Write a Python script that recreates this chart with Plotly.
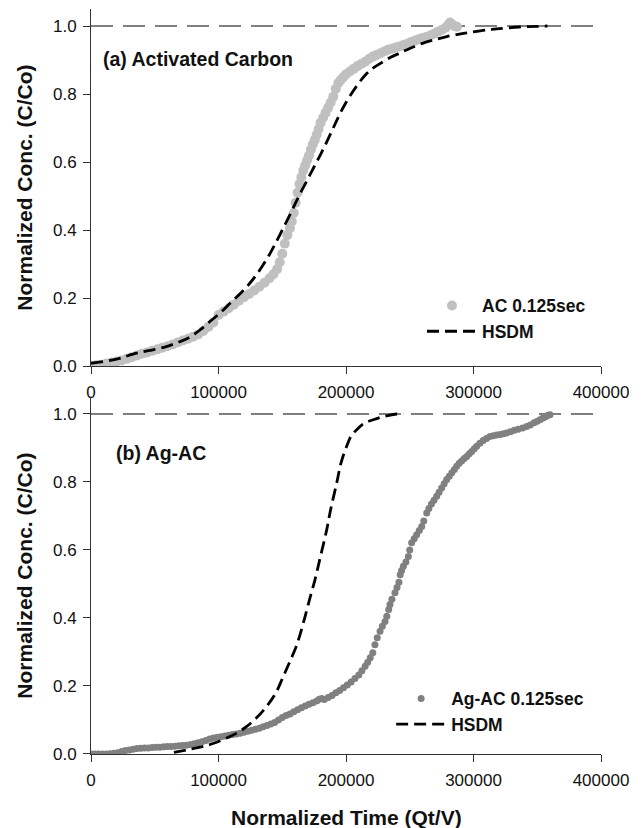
import plotly.graph_objects as go

# ---------------- data ----------------
# Panel (a): Activated Carbon, experimental (AC 0.125sec)
ac_time = [0, 4000, 8000, 12000, 16000, 20000, 24000, 28000, 32000, 36000, 40000, 44000, 48000,
           52000, 56000, 60000, 64000, 68000, 72000, 76000, 80000, 84000, 88000, 92000, 96000,
           100000, 104000, 108000, 112000, 116000, 120000, 124000, 128000, 132000, 136000, 140000,
           143000, 146000, 148000, 150000, 152000, 154000, 156000, 157500, 159000, 160500, 162000,
           163500, 165000, 166500, 168000, 169500, 171000, 172500, 174000, 175500, 177000, 178500,
           180000, 182000, 184000, 186000, 188000, 190000, 192000, 194000, 196000, 198000, 200000,
           203000, 206000, 209000, 212000, 215000, 218000, 221000, 224000, 227000, 230000, 233000,
           236000, 239000, 242000, 245000, 248000, 251000, 254000, 257000, 260000, 263000, 266000,
           269000, 272000, 275000, 278000, 280000, 281600, 283000, 285000, 287000]
ac_conc = [0.000, 0.002, 0.004, 0.007, 0.010, 0.013, 0.016, 0.021, 0.026, 0.031, 0.036, 0.040, 0.045,
           0.049, 0.054, 0.058, 0.063, 0.069, 0.075, 0.080, 0.086, 0.093, 0.103, 0.115, 0.128,
           0.150, 0.160, 0.170, 0.180, 0.192, 0.202, 0.212, 0.222, 0.233, 0.245, 0.258,
           0.270, 0.285, 0.305, 0.330, 0.360, 0.385, 0.405, 0.425, 0.450, 0.480, 0.510,
           0.535, 0.555, 0.575, 0.590, 0.605, 0.620, 0.637, 0.652, 0.665, 0.680, 0.697,
           0.715, 0.730, 0.745, 0.760, 0.775, 0.792, 0.815, 0.832, 0.842, 0.850, 0.858,
           0.866, 0.874, 0.882, 0.888, 0.895, 0.903, 0.910, 0.915, 0.920, 0.925, 0.930,
           0.933, 0.937, 0.940, 0.944, 0.948, 0.953, 0.957, 0.961, 0.965, 0.968, 0.972,
           0.977, 0.983, 0.988, 0.995, 1.003, 1.010, 1.005, 1.000, 0.998]

# Panel (a): HSDM model
hsdm_a_time = [0, 20000, 33000, 45000, 59000, 70000, 78000, 85500, 93000, 101000, 110000, 119500,
               126000, 132500, 140000, 145000, 150000, 155000, 160000, 165000, 170000, 175000,
               180000, 185000, 190000, 195000, 200000, 205000, 210000, 215000, 220000, 227000,
               235000, 242000, 250000, 260000, 270000, 279000, 290000, 297000, 310000, 320000,
               336000, 350000, 358000]
hsdm_a_conc = [0.008, 0.020, 0.035, 0.045, 0.057, 0.072, 0.086, 0.106, 0.130, 0.155, 0.188, 0.222,
               0.250, 0.283, 0.328, 0.363, 0.400, 0.437, 0.476, 0.514, 0.550, 0.586,
               0.622, 0.660, 0.700, 0.740, 0.775, 0.805, 0.832, 0.855, 0.873, 0.890,
               0.908, 0.920, 0.934, 0.949, 0.960, 0.969, 0.977, 0.981, 0.988, 0.992,
               0.997, 0.999, 1.000]

# Panel (b): Ag-AC, experimental (Ag-AC 0.125sec)
agac_time = [0, 3000, 6000, 9000, 12000, 15000, 18000, 21000, 24000, 27000, 30000, 33000, 36000,
             39000, 42000, 45000, 48000, 51000, 54000, 57000, 60000, 63000, 66000, 69000, 72000,
             75000, 78000, 81000, 84000, 87000, 90000, 93000, 96000, 99000, 102000, 105000, 108000,
             111000, 114000, 117000, 120000, 123000, 126000, 129000, 132000, 135000, 138000, 141000,
             144000, 147000, 150000, 153000, 156000, 159000, 162000, 165000, 168000, 171000, 174000,
             177000, 179000, 181000, 183000, 186000, 189000, 192000, 195000, 198000, 201000, 204000,
             207000, 210000, 212500, 215000, 217000, 219000, 221000, 222700, 224500, 226700, 228500,
             230600, 232000, 233500, 234500, 236000, 238400, 240000, 241500, 242500, 243600, 245000,
             247000, 248900, 250000, 251500, 253500, 255400, 257500, 259400, 261000, 263300, 265000,
             267000, 269000, 271100, 273000, 275000, 277000, 279000, 281000, 283000, 285000, 286800,
             288800, 290700, 292700, 294700, 296700, 298600, 300600, 302500, 305000, 307600, 310200,
             312900, 315500, 318200, 321000, 323500, 326000, 329000, 332000, 335000, 338500, 341700,
             344500, 347500, 350000, 352200, 354500, 356500, 358500, 360000]
agac_conc = [0.000, 0.000, 0.000, 0.000, 0.000, 0.001, 0.002, 0.004, 0.007, 0.010, 0.012, 0.014, 0.016,
             0.017, 0.018, 0.018, 0.019, 0.020, 0.020, 0.021, 0.022, 0.022, 0.023, 0.024, 0.025,
             0.026, 0.028, 0.030, 0.033, 0.036, 0.040, 0.044, 0.047, 0.049, 0.051, 0.053, 0.055,
             0.057, 0.059, 0.061, 0.064, 0.067, 0.070, 0.073, 0.076, 0.080, 0.084, 0.088,
             0.093, 0.100, 0.107, 0.113, 0.118, 0.124, 0.130, 0.136, 0.141, 0.146, 0.151,
             0.156, 0.161, 0.163, 0.160, 0.166, 0.172, 0.180, 0.187, 0.195, 0.203, 0.212,
             0.222, 0.232, 0.245, 0.258, 0.270, 0.283, 0.298, 0.321, 0.342, 0.361, 0.376,
             0.390, 0.405, 0.425, 0.440, 0.455, 0.474, 0.490, 0.505, 0.527, 0.540, 0.552,
             0.565, 0.581, 0.600, 0.621, 0.633, 0.645, 0.657, 0.669, 0.685, 0.709, 0.722,
             0.735, 0.746, 0.758, 0.770, 0.782, 0.795, 0.807, 0.817, 0.827, 0.837, 0.846,
             0.855, 0.862, 0.869, 0.875, 0.883, 0.890, 0.898, 0.905, 0.914, 0.922, 0.928,
             0.934, 0.936, 0.938, 0.940, 0.942, 0.944, 0.948, 0.952, 0.955, 0.959, 0.963,
             0.968, 0.974, 0.979, 0.983, 0.988, 0.992, 0.996, 0.998]

# Panel (b): HSDM model
hsdm_b_time = [65000, 75000, 85500, 95000, 106400, 115000, 122100, 130000, 137800, 145000, 150800,
               156000, 161300, 166500, 171800, 175700, 179600, 184900, 188000, 192700, 196000,
               200500, 204000, 208400, 214000, 221400, 230000, 239800, 245000]
hsdm_b_conc = [0.005, 0.012, 0.020, 0.030, 0.047, 0.063, 0.081, 0.107, 0.140, 0.180, 0.228,
               0.272, 0.320, 0.385, 0.460, 0.513, 0.575, 0.660, 0.720, 0.797, 0.855,
               0.905, 0.935, 0.954, 0.972, 0.983, 0.993, 1.000, 1.000]

REF_LEVEL = 1.0
x_ticks = [0, 100000, 200000, 300000, 400000]
y_ticks = [0.0, 0.2, 0.4, 0.6, 0.8, 1.0]
panel_labels = ["(a) Activated Carbon", "(b) Ag-AC"]
y_title = "Normalized Conc. (C/Co)"
x_title = "Normalized Time (Qt/V)"

# ---------------- figure ----------------
FONT = "Liberation Sans, Arial, sans-serif"
fig = go.Figure()

fig.add_trace(go.Scatter(x=ac_time, y=ac_conc, mode="markers", name="AC 0.125sec",
                         marker=dict(color="#c0c0c0", size=10, line=dict(width=0)),
                         xaxis="x", yaxis="y", legend="legend"))
fig.add_trace(go.Scatter(x=hsdm_a_time, y=hsdm_a_conc, mode="lines", name="HSDM",
                         line=dict(color="black", width=2.8, dash="12px,6px", shape="spline"),
                         xaxis="x", yaxis="y", legend="legend"))
fig.add_trace(go.Scatter(x=agac_time, y=agac_conc, mode="markers", name="Ag-AC 0.125sec",
                         marker=dict(color="#808080", size=7, line=dict(width=0)),
                         xaxis="x2", yaxis="y2", legend="legend2"))
fig.add_trace(go.Scatter(x=hsdm_b_time, y=hsdm_b_conc, mode="lines", name="HSDM",
                         line=dict(color="black", width=2.8, dash="12px,6px", shape="spline"),
                         xaxis="x2", yaxis="y2", legend="legend2"))

for yref, xref in (("y", "x"), ("y2", "x2")):
    fig.add_shape(type="line", xref=xref + " domain", yref=yref, x0=0, x1=0.99,
                  y0=REF_LEVEL, y1=REF_LEVEL, line=dict(color="black", width=1, dash="22px,10px"),
                  layer="below")

axis_common = dict(showline=True, linecolor="#333", linewidth=1, ticks="outside", ticklen=7,
                   tickcolor="#333", tickwidth=1, showgrid=False, zeroline=False,
                   tickfont=dict(family=FONT, size=17, color="#111"))

# the page body has an 8px margin, so the figure is made 8px smaller on each offset side
fig.update_layout(
    width=636, height=820,
    margin=dict(l=83, r=43, t=1, b=74),
    paper_bgcolor="white", plot_bgcolor="white",
    showlegend=True,
    xaxis=dict(domain=[0, 1], anchor="y", range=[0, 400000], tickvals=x_ticks,
               tickformat="d", ticklabelstandoff=4, **axis_common),
    yaxis=dict(domain=[0.5208, 1], anchor="x", range=[0, 1.05], tickvals=y_ticks,
               tickformat=".1f", ticklabelstandoff=3, **axis_common),
    xaxis2=dict(domain=[0, 1], anchor="y2", range=[0, 400000], tickvals=x_ticks,
                tickformat="d", ticklabelstandoff=4, **axis_common),
    yaxis2=dict(domain=[0, 0.4792], anchor="x2", range=[0, 1.05], tickvals=y_ticks,
                tickformat=".1f", ticklabelstandoff=3, **axis_common),
    legend=dict(x=0.649, y=0.626, xanchor="left", yanchor="top", bgcolor="rgba(0,0,0,0)",
                font=dict(family=FONT, size=17.5, color="#111", weight="bold"),
                itemwidth=50, tracegroupgap=0),
    legend2=dict(x=0.5885, y=0.0986, xanchor="left", yanchor="top", bgcolor="rgba(0,0,0,0)",
                 font=dict(family=FONT, size=17.5, color="#111", weight="bold"),
                 itemwidth=50, tracegroupgap=0),
)

annos = [
    dict(text=panel_labels[0], xref="paper", yref="y domain", x=0.0197, y=0.860,
         xanchor="left", yanchor="middle", font=dict(family=FONT, size=19.5, color="#111", weight="bold")),
    dict(text=panel_labels[1], xref="paper", yref="y2 domain", x=0.045, y=0.843,
         xanchor="left", yanchor="middle", font=dict(family=FONT, size=19.5, color="#111", weight="bold")),
    dict(text=y_title, xref="paper", yref="y domain", x=-0.131, y=0.5, textangle=-90,
         xanchor="center", yanchor="middle", font=dict(family=FONT, size=21, color="#111", weight="bold")),
    dict(text=y_title, xref="paper", yref="y2 domain", x=-0.131, y=0.5, textangle=-90,
         xanchor="center", yanchor="middle", font=dict(family=FONT, size=21, color="#111", weight="bold")),
    dict(text=x_title, xref="paper", yref="paper", x=0.5, y=-0.0846,
         xanchor="center", yanchor="middle", font=dict(family=FONT, size=21, color="#111", weight="bold")),
]
for a in annos:
    a["showarrow"] = False
    fig.add_annotation(**a)

fig.write_html("out.html")
